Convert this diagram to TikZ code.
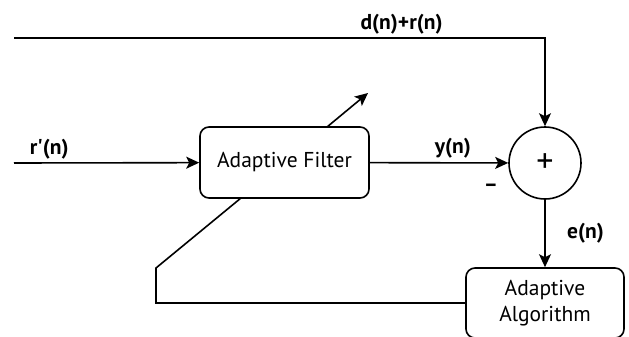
\documentclass[tikz,border=0pt]{standalone}
\usepackage{fontspec}
\setmainfont{PT Sans}
\usetikzlibrary{arrows.meta,positioning}
\begin{document}
\begin{tikzpicture}[x=1pt,y=-1pt,line width=1.6pt,
	>={Stealth[length=13pt,width=12pt,inset=3pt]},
	txt/.style={font=\fontsize{21.5}{26}\selectfont},
	lbl/.style={font=\fontsize{21.5}{26}\selectfont\bfseries},
	blockbox/.style={draw,rounded corners=9pt,align=center,inner sep=0pt,txt}]
	\useasboundingbox (0,0) rectangle (629,337);
	\node[blockbox,minimum width=169pt,minimum height=71pt] (filt) at (284.5,162.5) {Adaptive Filter};
	\node[draw,circle,minimum size=72pt,inner sep=0pt,font=\fontsize{34}{34}\selectfont] (sum) at (545,163) {+};
	\node[blockbox,minimum width=158pt,minimum height=70pt] (alg) at (545,303) {Adaptive\\Algorithm};
	\node[lbl] (minus) at (491,188) {--};
	\coordinate (din) at (14,38);
	\coordinate (rin) at (14,163);
	\coordinate (fb1) at (156,268);
	\coordinate (fb2) at (241,198);
	\coordinate (adj1) at (327,127);
	\coordinate (adj2) at (368,93);
	\draw[->] (din) -- node[lbl,above,pos=0.73] {d(n)+r(n)} (din -| sum) -- (sum);
	\draw[->] (rin) -- node[lbl,above,pos=0.19] {r\textquotesingle(n)} (filt);
	\draw[->] (filt) -- node[lbl,above,pos=0.6] {y(n)} (sum);
	\draw[->] (sum) -- node[lbl,right=18pt] {e(n)} (alg);
	\draw (alg.west) -| (fb1) -- (fb2);
	\draw[->] (adj1) -- (adj2);
\end{tikzpicture}
\end{document}
